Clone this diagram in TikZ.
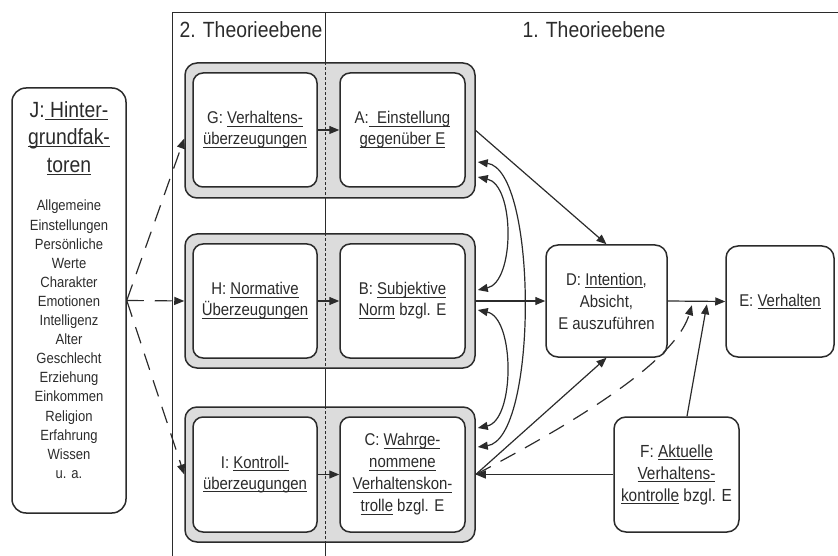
\documentclass[tikz,border=0pt]{standalone}
\usepackage{fontspec}
\setmainfont[FakeStretch=0.88]{Liberation Sans}
\usetikzlibrary{arrows.meta,calc}

\definecolor{ink}{HTML}{2B2B2B}
\definecolor{grpfill}{HTML}{DCDCDC}

% font size / baselineskip shortcut
\newcommand\fsz[2]{\fontsize{#1}{#2}\selectfont}
% underline sitting just below the baseline
\newcommand\ul[1]{\leavevmode\setbox0\hbox{#1}\rlap{\rule[-2.6pt]{\wd0}{0.9pt}}\box0\relax}

\tikzset{
  every node/.style={text=ink},
  grp/.style={draw=ink, fill=grpfill, rounded corners=12pt, line width=1.5pt,
              minimum width=290pt, inner sep=0pt},
  box/.style={draw=ink, fill=white, rounded corners=10pt, line width=1.5pt,
              align=center, inner sep=0pt, font=\fsz{17}{21}},
  plain/.style={align=center, inner sep=0pt},
  tip/.tip={Triangle[length=10pt,width=8pt]},
  arr/.style={draw=ink, line width=1.2pt, -tip},
  dbl/.style={draw=ink, line width=1.2pt, tip-tip},
  longdash/.style={dash pattern=on 17pt off 11pt},
  frame/.style={draw=ink, line width=1pt},
}

\begin{document}
\begin{tikzpicture}[x=1pt,y=-1pt]
\useasboundingbox (0,0) rectangle (838,556);

% frame of the two theory levels
\coordinate (divtop) at (325,13);
\coordinate (divbot) at (325,556);
\draw[frame] (172,556) -- (172,13) -- (838,13);
\draw[frame] (divtop) -- (divbot);
\node[plain, font=\fsz{22}{26}, anchor=base] (lvl2) at (251,38) {2. Theorieebene};
\node[plain, font=\fsz{22}{26}, anchor=base] (lvl1) at (594,38) {1. Theorieebene};

% background factors
\node[draw=ink, line width=1.5pt, rounded corners=14pt, minimum width=114pt,
      minimum height=425pt, inner sep=0pt] (J) at (69,300.5) {};
\node[plain, font=\fsz{22}{27.5}, anchor=north] (Jhead) at (69,101)
  {J:\ul{\ Hinter-}\\\ul{grundfak-}\\\ul{toren}};
\node[plain, font=\fsz{14.8}{19.1}, anchor=north] (Jlist) at (69,200)
  {Allgemeine\\Einstellungen\\Persönliche\\Werte\\Charakter\\Emotionen\\Intelligenz\\
   Alter\\Geschlecht\\Erziehung\\Einkommen\\Religion\\Erfahrung\\Wissen\\u. a.};

% grouped belief / construct pairs
\node[grp, minimum height=135pt] (grpA) at (330,130.5) {};
\node[grp, minimum height=134pt] (grpB) at (330,301) {};
\node[grp, minimum height=135pt] (grpC) at (330,474.5) {};
\foreach \g in {grpA,grpB,grpC}
  \draw[draw=ink, line width=0.8pt, dash pattern=on 3pt off 2pt]
    (divtop |- \g.north) -- (divtop |- \g.south);

\node[box, minimum width=124pt, minimum height=114pt] (G) at (255,130)
  {G: \ul{Verhaltens-}\\\ul{überzeugungen}};
\node[box, minimum width=125pt, minimum height=114pt] (A) at (402.5,130)
  {A:\ul{\ \ Einstellung}\\\ul{gegenüber E}};
\node[box, minimum width=124pt, minimum height=114pt] (H) at (255,301)
  {H: \ul{Normative}\\\ul{Überzeugungen}};
\node[box, minimum width=125pt, minimum height=114pt] (B) at (402.5,301)
  {B: \ul{Subjektive}\\\ul{Norm} bzgl. E};
\node[box, minimum width=124pt, minimum height=115pt] (I) at (255,474.5)
  {I: \ul{Kontroll-}\\\ul{überzeugungen}};
\node[box, minimum width=125pt, minimum height=115pt, font=\fsz{17}{22}] (C) at (402.5,474.5)
  {C: \ul{Wahrge-}\\\ul{nommene}\\\ul{Verhaltenskon-}\\\ul{trolle} bzgl. E};

% intention, behaviour, actual control
\node[box, rounded corners=12pt, minimum width=121pt, minimum height=112pt,
      font=\fsz{17}{22}] (D) at (606.5,301)
  {D: \ul{Intention},\\Absicht,\\E auszuführen};
\node[box, rounded corners=12pt, minimum width=108pt, minimum height=111pt] (E) at (780,301.5)
  {E: \ul{Verhalten}};
\node[box, rounded corners=12pt, minimum width=125pt, minimum height=115pt,
      font=\fsz{17.5}{22}] (F) at (676.5,474.5)
  {F: \ul{Aktuelle}\\\ul{Verhaltens-}\\\ul{kontrolle} bzgl. E};

% background factors feed the beliefs
\draw[arr, longdash] (J.east) -- ([shift={(0,8)}]grpA.west);
\draw[arr, longdash] (J.east) -- (grpB.west);
\draw[arr, longdash] (J.east) -- (grpC.west);

% beliefs to constructs
\draw[arr] (G) -- (A);
\draw[arr] (H) -- (B);
\draw[arr] (I) -- (C);

% constructs to intention
\draw[arr] (grpA.east) -- (D.north);
\draw[arr] (grpB.east) -- (D.west);
\draw[arr] (grpC.east) -- (D.south);

% mutual correlations between A, B and C
\coordinate (a1) at ([shift={(2,31.5)}]grpA.east);
\coordinate (a2) at ([shift={(2,46.5)}]grpA.east);
\coordinate (b1) at ([shift={(2,-11)}]grpB.east);
\coordinate (b2) at ([shift={(2,9)}]grpB.east);
\coordinate (c1) at ([shift={(2,-46.5)}]grpC.east);
\coordinate (c2) at ([shift={(2,-27.5)}]grpC.east);
\draw[dbl] (a2) .. controls (515,185) and (515,282) .. (b1);
\draw[dbl] (b2) .. controls (515,318) and (515,420) .. (c1);
\draw[dbl] (a1) .. controls (538,170) and (538,439) .. (c2);

% intention to behaviour, moderated by control
\draw[arr] (D.east) -- (E.west);
\coordinate (m1) at ($(D.east)!0.42!(E.west)+(0,4)$);
\coordinate (m2) at ($(D.east)!0.68!(E.west)+(0,3)$);
\draw[arr] ([shift={(10.5,0)}]F.north) -- (m2);
\draw[arr, longdash] (grpC.east) .. controls (612,403) and (678,352) .. (m1);
\draw[arr] (F.west) -- (grpC.east);
\end{tikzpicture}
\end{document}
